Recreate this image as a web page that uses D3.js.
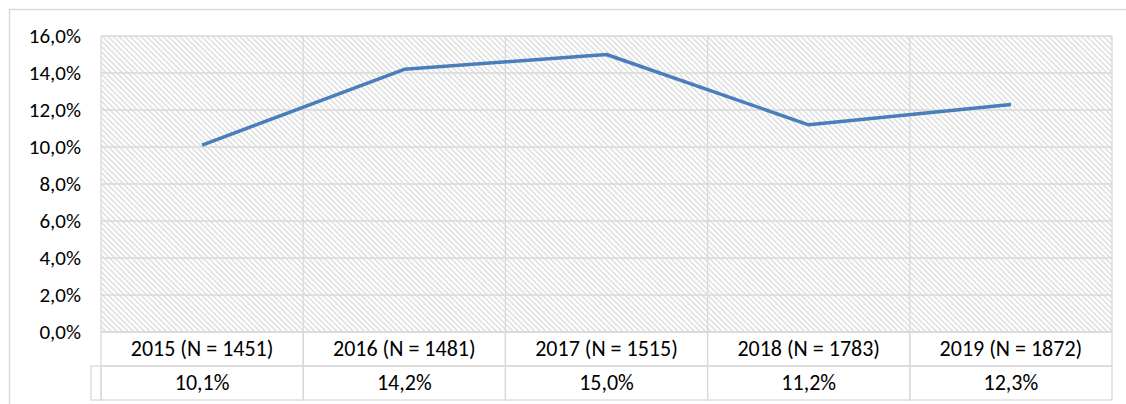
<!DOCTYPE html>
<html>
<head>
    <title>Share by year</title>
    <style>
        body { margin: 0; background: #fff; }
        text { font-family: Calibri, Carlito, "Liberation Sans", sans-serif; fill: #000; }
        .grid line { stroke: #d9d9d9; stroke-width: 1.3; }
        .cell { fill: none; stroke: #d9d9d9; stroke-width: 1.3; }
    </style>
</head>
<body>
    <svg id="chart" width="1126" height="404"></svg>

    <script src="https://d3js.org/d3.v7.min.js"></script>
    <script>
        // chart data
        const years = ['2015', '2016', '2017', '2018', '2019'];
        const counts = [1451, 1481, 1515, 1783, 1872];
        const values = [10.1, 14.2, 15.0, 11.2, 12.3];
        const yTicks = [0, 2, 4, 6, 8, 10, 12, 14, 16];

        const categories = years.map((y, i) => `${y} (N = ${counts[i]})`);
        const pct = v => v.toFixed(1).replace('.', ',') + '%';

        const svg = d3.select('#chart');
        const plot = { left: 101, right: 1112, top: 36, bottom: 332 };
        const rowH = 34;

        // hatch pattern for the plot area
        const pat = svg.append('defs').append('pattern')
            .attr('id', 'hatch')
            .attr('patternUnits', 'userSpaceOnUse')
            .attr('width', 5.5).attr('height', 5.5);
        pat.append('rect').attr('width', 5.5).attr('height', 5.5).attr('fill', '#fff');
        pat.append('path')
            .attr('d', 'M-1,-1 L6.5,6.5 M-1,4.5 L1,6.5 M4.5,-1 L6.5,1')
            .attr('stroke', '#d6d6d6')
            .attr('stroke-width', 1.2);

        // outer chart border (continues past the picture edge)
        svg.append('rect')
            .attr('x', 9.5).attr('y', 9.5)
            .attr('width', 1300).attr('height', 600)
            .attr('fill', 'none')
            .attr('stroke', '#d9d9d9')
            .attr('stroke-width', 1.5);

        const x = d3.scaleBand()
            .domain(categories)
            .range([plot.left, plot.right]);

        const y = d3.scaleLinear()
            .domain([0, 16])
            .range([plot.bottom, plot.top]);

        svg.append('rect')
            .attr('x', plot.left).attr('y', plot.top)
            .attr('width', plot.right - plot.left)
            .attr('height', plot.bottom - plot.top)
            .attr('fill', 'url(#hatch)');

        // horizontal gridlines
        svg.append('g')
            .attr('class', 'grid')
            .selectAll('line')
            .data(yTicks)
            .enter().append('line')
            .attr('x1', plot.left).attr('x2', plot.right)
            .attr('y1', d => y(d)).attr('y2', d => y(d));

        // vertical gridlines at category edges
        const edges = categories.map(c => x(c)).concat([plot.right]);
        svg.append('g')
            .attr('class', 'grid')
            .selectAll('line')
            .data(edges)
            .enter().append('line')
            .attr('x1', d => d).attr('x2', d => d)
            .attr('y1', plot.top).attr('y2', plot.bottom);

        // y axis labels
        svg.append('g')
            .selectAll('text')
            .data(yTicks)
            .enter().append('text')
            .attr('x', 81)
            .attr('y', d => y(d))
            .attr('dy', '0.33em')
            .attr('text-anchor', 'end')
            .style('font-size', '21px')
            .text(d => pct(d));

        // data table
        const table = svg.append('g');
        table.selectAll('.c1')
            .data(categories)
            .enter().append('rect')
            .attr('class', 'cell')
            .attr('x', d => x(d)).attr('y', plot.bottom)
            .attr('width', x.bandwidth()).attr('height', rowH);
        table.selectAll('.c2')
            .data(categories)
            .enter().append('rect')
            .attr('class', 'cell')
            .attr('x', d => x(d)).attr('y', plot.bottom + rowH)
            .attr('width', x.bandwidth()).attr('height', rowH);
        // empty legend key cell
        table.append('rect')
            .attr('class', 'cell')
            .attr('x', 91).attr('y', plot.bottom + rowH)
            .attr('width', plot.left - 91).attr('height', rowH);

        table.selectAll('.lab')
            .data(categories)
            .enter().append('text')
            .attr('x', d => x(d) + x.bandwidth() / 2)
            .attr('y', plot.bottom + rowH / 2)
            .attr('dy', '0.33em')
            .attr('text-anchor', 'middle')
            .style('font-size', '22px')
            .text(d => d);

        table.selectAll('.val')
            .data(values)
            .enter().append('text')
            .attr('x', (d, i) => x(categories[i]) + x.bandwidth() / 2)
            .attr('y', plot.bottom + rowH * 1.5)
            .attr('dy', '0.33em')
            .attr('text-anchor', 'middle')
            .style('font-size', '22px')
            .text(d => pct(d));

        // the line
        const line = d3.line()
            .x((d, i) => x(categories[i]) + x.bandwidth() / 2)
            .y(d => y(d));

        svg.append('path')
            .datum(values)
            .attr('d', line)
            .attr('fill', 'none')
            .attr('stroke', '#4a7ebb')
            .attr('stroke-width', 3.5)
            .attr('stroke-linejoin', 'round');
    </script>
</body>
</html>
